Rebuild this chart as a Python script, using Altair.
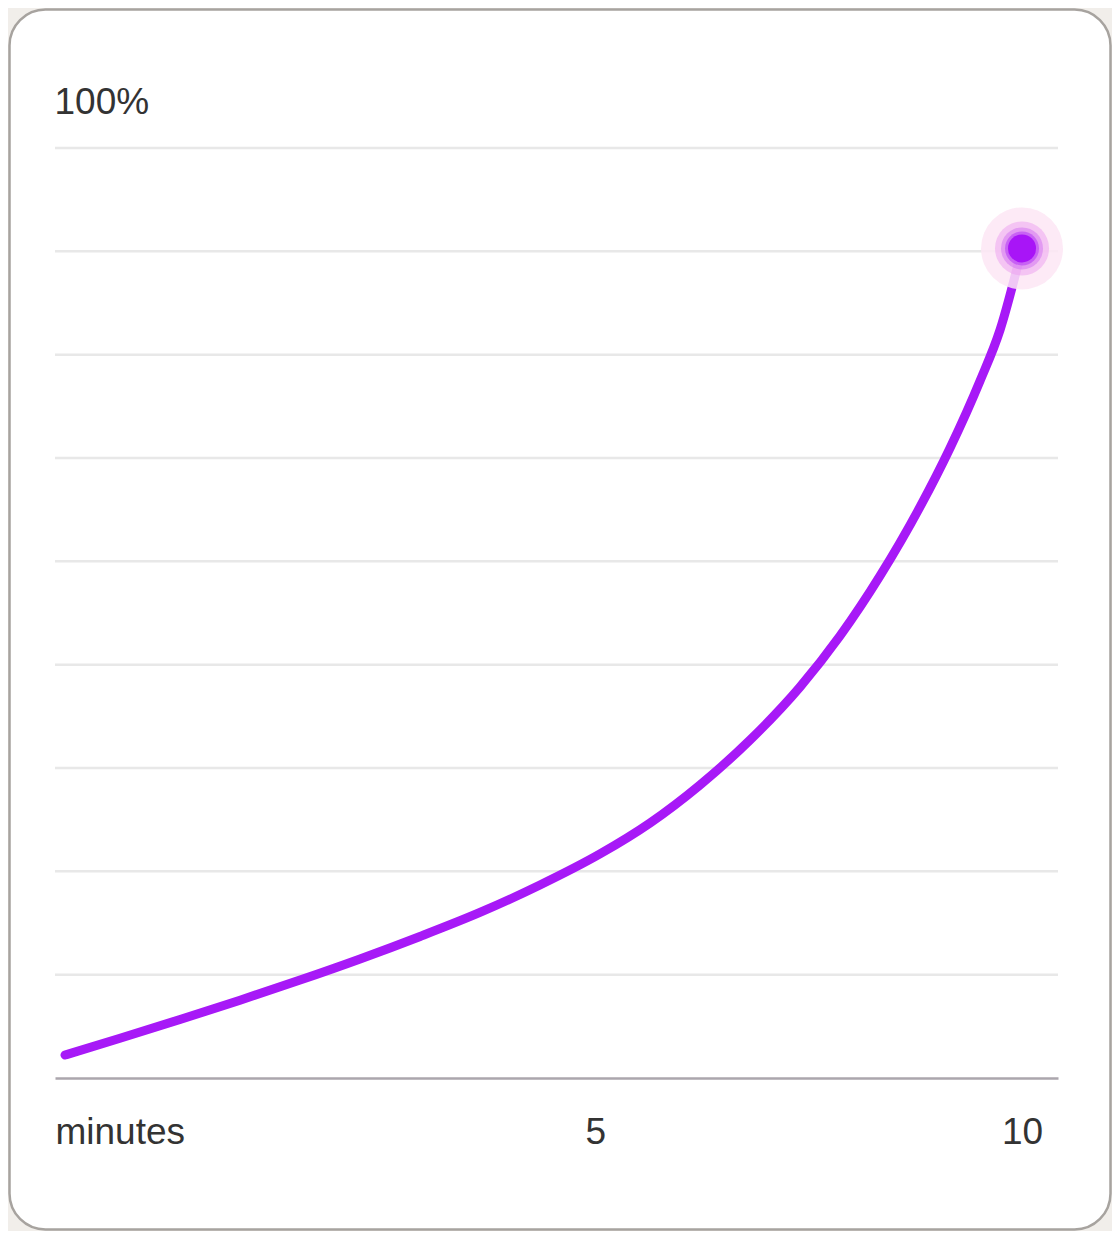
import altair as alt
import pandas as pd

# curve (minutes, percent)
minutes = [0.000, 0.575, 1.202, 1.829, 2.456, 3.083, 3.710, 4.336, 4.963, 5.590,
           6.113, 6.635, 7.158, 7.680, 8.098, 8.516, 8.934, 9.248, 9.561, 9.770, 10.000]
percent = [2.47, 4.27, 6.29, 8.37, 10.53, 12.80, 15.22, 17.80, 20.75, 24.09,
           27.42, 31.51, 36.34, 42.04, 47.53, 53.98, 61.40, 67.74, 74.95, 80.43, 89.20]

# horizontal guide levels (percent)
grid_levels = [11.11, 22.22, 33.33, 44.44, 55.56, 66.67, 77.78, 88.89, 100.0]

# x tick positions and their labels
x_tick_values = [-0.1045, 5.54, 10.0]
x_tick_labels = ["minutes", "5", "10"]

# end marker: glow rings (size = area of bounding square), colours, opacities; outermost first
end_minute = [10.0]
end_percent = [89.2]
ring_sizes = [6724, 2916, 1764, 1156, 784]
ring_colors = ["#fde6f5", "#ec9df0", "#d070f2", "#b840f5", "#a815f7"]
ring_opacity = [0.85, 0.5, 0.5, 0.6, 1.0]

W, H = 1003, 930
FONT = "Liberation Sans"
TEXT = "#333333"
PURPLE = "#a719f7"

curve = pd.DataFrame({"minute": minutes, "pct": percent})
grid = pd.DataFrame({"pct": grid_levels})
rings = pd.DataFrame({
    "minute": end_minute * len(ring_sizes),
    "pct": end_percent * len(ring_sizes),
    "size": ring_sizes,
    "color": ring_colors,
    "op": ring_opacity,
    "order": list(range(len(ring_sizes))),
})
card = pd.DataFrame({"card": [0]})

label_expr = (
    f"datum.value < 0 ? '{x_tick_labels[0]}' : "
    f"datum.value < 7 ? '{x_tick_labels[1]}' : '{x_tick_labels[2]}'"
)

xscale = alt.Scale(domain=[-0.1045, 10.376], nice=False, zero=False)
yscale = alt.Scale(domain=[0, 100], nice=False, zero=True)

xaxis = alt.Axis(
    orient="bottom",
    values=x_tick_values,
    labelExpr=label_expr,
    labelAlign={"condition": {"test": "datum.value < 0", "value": "left"}, "value": "center"},
    labelBaseline="alphabetic",
    labelPadding=65,
    labelFont=FONT,
    labelFontSize=37,
    labelColor=TEXT,
    labelOverlap=False,
    labelBound=False,
    labelFlush=False,
    ticks=False,
    tickSize=0,
    domain=True,
    domainColor="#aba6ad",
    domainWidth=2.5,
    grid=False,
    title="",
    zindex=1,
)

yaxis = alt.Axis(
    orient="left",
    labels=False,
    ticks=False,
    domain=False,
    grid=False,
    title="100%",
    titleAngle=0,
    titleAlign="left",
    titleBaseline="alphabetic",
    titleX=-1,
    titleY=-35,
    titleFont=FONT,
    titleFontSize=37,
    titleFontWeight="normal",
    titleColor=TEXT,
    zindex=1,
)

card_layer = alt.Chart(card).mark_rect(
    fill="#ffffff", stroke="#a7a39f", strokeWidth=2.5, cornerRadius=36
).encode(
    x=alt.value(-45.5), x2=alt.value(1055.5),
    y=alt.value(-138.5), y2=alt.value(1081.5),
)

grid_layer = alt.Chart(grid).mark_rule(color="#e8e8e8", strokeWidth=2.5).encode(
    y=alt.Y("pct:Q", scale=yscale, axis=yaxis)
)

line_layer = alt.Chart(curve).mark_line(
    color=PURPLE, strokeWidth=9, strokeCap="round", interpolate="monotone"
).encode(
    x=alt.X("minute:Q", scale=xscale, axis=xaxis),
    y=alt.Y("pct:Q", scale=yscale, axis=yaxis),
)

ring_layer = alt.Chart(rings).mark_circle().encode(
    x=alt.X("minute:Q", scale=xscale, axis=xaxis),
    y=alt.Y("pct:Q", scale=yscale, axis=yaxis),
    size=alt.Size("size:Q", scale=None, legend=None),
    color=alt.Color("color:N", scale=None, legend=None),
    opacity=alt.Opacity("op:Q", scale=None, legend=None),
    order=alt.Order("order:Q"),
)

chart = alt.layer(card_layer, grid_layer, line_layer, ring_layer).properties(
    width=W,
    height=H,
    autosize=alt.AutoSizeParams(type="none"),
    padding={"left": 47, "top": 140, "right": 54, "bottom": 153},
    background="#f1eeea",
).configure_view(stroke=None)

chart.save("out.html", embed_options={"renderer": "svg", "actions": False})
